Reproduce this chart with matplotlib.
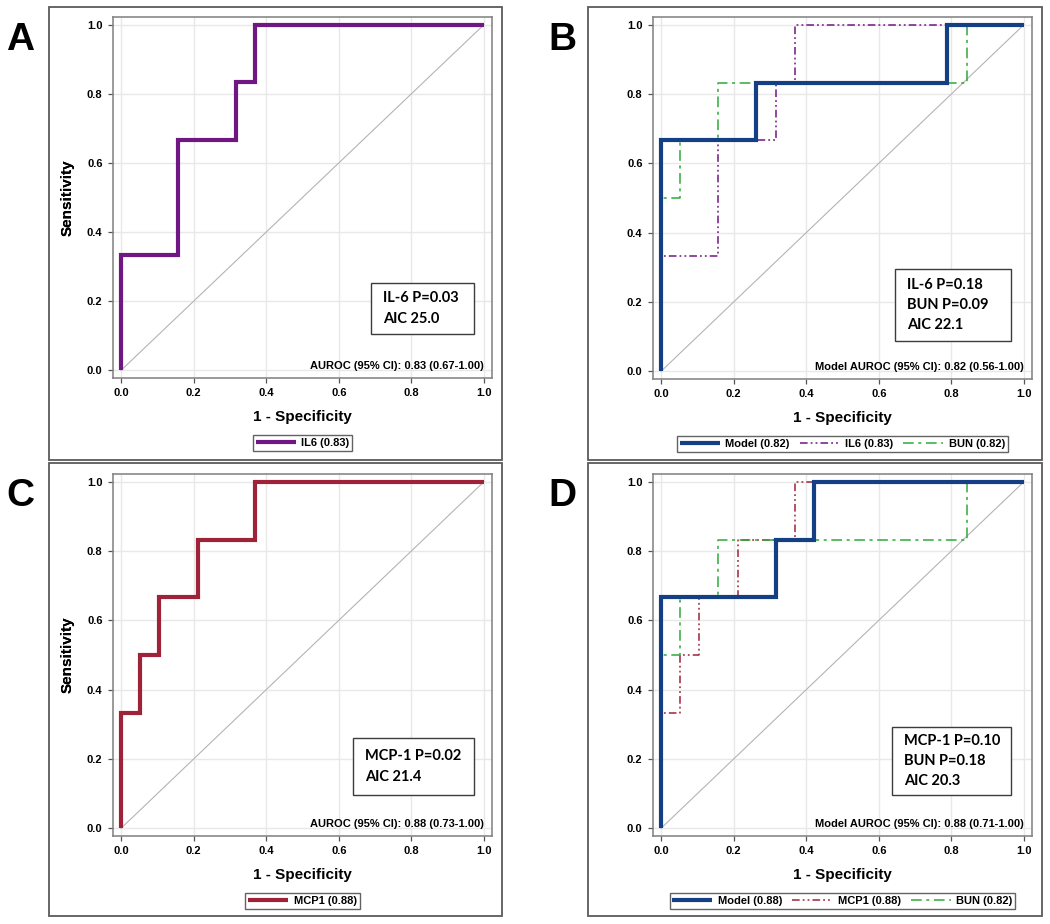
import matplotlib
matplotlib.use('Agg')
import matplotlib.pyplot as plt
from matplotlib.patches import Rectangle

W, H = 1050, 924

# ROC step corners: 1 - specificity (x) and sensitivity (y)
il6_fpr = [0.0, 0.0, 0.158, 0.158, 0.316, 0.316, 0.368, 0.368, 1.0]
il6_sens = [0.0, 0.333, 0.333, 0.667, 0.667, 0.833, 0.833, 1.0, 1.0]

mcp1_fpr = [0.0, 0.0, 0.053, 0.053, 0.105, 0.105, 0.211, 0.211, 0.368, 0.368, 1.0]
mcp1_sens = [0.0, 0.333, 0.333, 0.5, 0.5, 0.667, 0.667, 0.833, 0.833, 1.0, 1.0]

bun_fpr = [0.0, 0.0, 0.053, 0.053, 0.158, 0.158, 0.842, 0.842, 1.0]
bun_sens = [0.0, 0.5, 0.5, 0.667, 0.667, 0.833, 0.833, 1.0, 1.0]

model_il6_bun_fpr = [0.0, 0.0, 0.263, 0.263, 0.789, 0.789, 1.0]
model_il6_bun_sens = [0.0, 0.667, 0.667, 0.833, 0.833, 1.0, 1.0]

model_mcp1_bun_fpr = [0.0, 0.0, 0.316, 0.316, 0.421, 0.421, 1.0]
model_mcp1_bun_sens = [0.0, 0.667, 0.667, 0.833, 0.833, 1.0, 1.0]

ticks = [0.0, 0.2, 0.4, 0.6, 0.8, 1.0]

box_texts = {
    'A': 'IL-6 P=0.03\nAIC 25.0',
    'B': 'IL-6 P=0.18\nBUN P=0.09\nAIC 22.1',
    'C': 'MCP-1 P=0.02\nAIC 21.4',
    'D': 'MCP-1 P=0.10\nBUN P=0.18\nAIC 20.3',
}
auroc_texts = {
    'A': 'AUROC (95% CI): 0.83 (0.67-1.00)',
    'B': 'Model AUROC (95% CI): 0.82 (0.56-1.00)',
    'C': 'AUROC (95% CI): 0.88 (0.73-1.00)',
    'D': 'Model AUROC (95% CI): 0.88 (0.71-1.00)',
}

# colours / styles
PURPLE = '#6F1782'
RED = '#9F2338'
BLUE = '#143F84'
GREEN = '#2DAA38'
THICK = dict(lw=3.0, solid_capstyle='butt', solid_joinstyle='miter')
DOTDOT = dict(lw=1.1, dashes=(5, 2, 1.2, 2, 1.2, 2))
DASHDOT = dict(lw=1.1, dashes=(7, 3, 2, 3))

TICK_FONT = dict(family='Liberation Sans', weight='bold', size=8)

# panel layout in pixels: frame (l, t, r, b), axes (l, t, r, b)
panels = {
    'A': dict(frame=(49, 7, 502, 460), axes=(113, 17, 492, 378), letter=(6, 40)),
    'B': dict(frame=(588, 7, 1042, 460), axes=(653, 17, 1032, 379), letter=(548, 40)),
    'C': dict(frame=(49, 463, 502, 916), axes=(113, 474, 492, 836), letter=(6, 496)),
    'D': dict(frame=(588, 463, 1042, 916), axes=(653, 474, 1032, 836), letter=(548, 496)),
}
# annotation boxes (l, t, r, b) in pixels
boxes = {
    'A': (371, 283, 474, 334),
    'B': (895, 269, 1011, 341),
    'C': (353, 738, 474, 795),
    'D': (892, 727, 1011, 795),
}

curves = {
    'A': [(il6_fpr, il6_sens, PURPLE, THICK, 'IL6 (0.83)')],
    'B': [(model_il6_bun_fpr, model_il6_bun_sens, BLUE, THICK, 'Model (0.82)'),
          (il6_fpr, il6_sens, PURPLE, DOTDOT, 'IL6 (0.83)'),
          (bun_fpr, bun_sens, GREEN, DASHDOT, 'BUN (0.82)')],
    'C': [(mcp1_fpr, mcp1_sens, RED, THICK, 'MCP1 (0.88)')],
    'D': [(model_mcp1_bun_fpr, model_mcp1_bun_sens, BLUE, THICK, 'Model (0.88)'),
          (mcp1_fpr, mcp1_sens, RED, DOTDOT, 'MCP1 (0.88)'),
          (bun_fpr, bun_sens, GREEN, DASHDOT, 'BUN (0.82)')],
}


def fx(px):
    return px / W


def fy(py):
    return 1 - py / H


fig = plt.figure(figsize=(W / 100, H / 100), dpi=100)
fig.patch.set_facecolor('white')

for key, p in panels.items():
    l, t, r, b = p['frame']
    fig.add_artist(Rectangle((fx(l), fy(b)), (r - l) / W, (b - t) / H,
                             transform=fig.transFigure, fill=False,
                             edgecolor='#5a5a5a', lw=1.3))
    fig.text(fx(p['letter'][0]), fy(p['letter'][1]), key, fontsize=28,
             fontweight='bold', family='Liberation Sans', va='center', ha='left')

    al, at, ar, ab = p['axes']
    ax = fig.add_axes([fx(al), fy(ab), (ar - al) / W, (ab - at) / H])
    ax.set_xlim(-0.022, 1.022)
    ax.set_ylim(-0.022, 1.022)
    ax.set_xticks(ticks)
    ax.set_yticks(ticks)
    ax.set_xticklabels([f'{v:.1f}' for v in ticks], fontdict=TICK_FONT)
    ax.set_yticklabels([f'{v:.1f}' for v in ticks], fontdict=TICK_FONT)
    ax.tick_params(direction='out', length=3.5, width=0.9, color='#555555', pad=4)
    ax.grid(True, color='#e8e8e8', lw=1.0)
    ax.set_axisbelow(True)
    for s in ax.spines.values():
        s.set_color('#7f7f7f')
        s.set_linewidth(1.1)

    ax.plot([0, 1], [0, 1], color='#b4b4b4', lw=0.8, zorder=1)

    handles = []
    n = len(curves[key])
    for i, (xs, ys, col, style, lab) in enumerate(curves[key]):
        z = 4 if i == 0 else 3
        ln, = ax.plot(xs, ys, color=col, label=lab, zorder=z, **style)
        handles.append(ln)

    ax.text(1.0, 0.012, auroc_texts[key], ha='right', va='center',
            fontdict=TICK_FONT, zorder=5)

    bl, bt, br, bb = boxes[key]
    fig.add_artist(Rectangle((fx(bl), fy(bb)), (br - bl) / W, (bb - bt) / H,
                             transform=fig.transFigure, facecolor='white',
                             edgecolor='#3c3c3c', lw=1.0, zorder=6))
    fig.text(fx(bl + 12), fy((bt + bb) / 2), box_texts[key], ha='left', va='center',
             family='Lato', fontweight='bold', fontsize=10.5, linespacing=1.55,
             zorder=7)

    cx = (al + ar) / 2
    fig.text(fx(cx), fy(ab + 39), '1 - Specificity', ha='center', va='center',
             family='Liberation Sans', fontweight='bold', fontsize=11)
    fig.text(fx(68), fy((at + ab) / 2), 'Sensitivity', ha='center', va='center',
             rotation=90, family='Liberation Sans', fontweight='bold', fontsize=11)

    leg_y = ab + 65
    leg = ax.legend(handles=handles, loc='center', ncol=n,
                    bbox_to_anchor=(fx(cx), fy(leg_y)), bbox_transform=fig.transFigure,
                    prop=dict(family='Liberation Sans', weight='bold', size=8),
                    frameon=True, fancybox=False, edgecolor='#3c3c3c',
                    handlelength=3.6, handletextpad=0.5, columnspacing=0.9,
                    borderpad=0.25, borderaxespad=0)
    leg.get_frame().set_linewidth(1.0)

fig.savefig('out.png', dpi=100, facecolor='white')
